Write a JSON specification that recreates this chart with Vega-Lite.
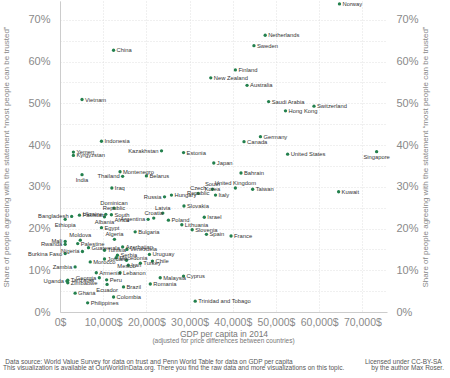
{
  "$schema": "https://vega.github.io/schema/vega-lite/v6.json",
  "width": 327,
  "height": 311,
  "padding": {"left": 2, "top": 0, "right": 4, "bottom": 0},
  "background": "white",
  "config": {
    "view": {"stroke": null},
    "font": "Liberation Sans",
    "text": {"font": "Liberation Sans"}
  },
  "title": {
    "text": "(adjusted for price differences between countries)",
    "orient": "bottom",
    "anchor": "middle",
    "frame": "group",
    "font": "Liberation Sans",
    "fontSize": 6.5,
    "fontWeight": "normal",
    "color": "#777777",
    "offset": 0,
    "subtitle": [
      "Data source: World Value Survey for data on trust and Penn World Table for data on GDP per capita\u00a0\u00a0\u00a0\u00a0\u00a0\u00a0\u00a0\u00a0\u00a0\u00a0\u00a0\u00a0\u00a0\u00a0\u00a0\u00a0\u00a0\u00a0\u00a0\u00a0\u00a0\u00a0\u00a0\u00a0\u00a0\u00a0\u00a0\u00a0\u00a0\u00a0\u00a0\u00a0\u00a0\u00a0\u00a0\u00a0\u00a0\u00a0\u00a0\u00a0Licensed under CC-BY-SA",
      "This visualization is available at OurWorldInData.org. There you find the raw data and more visualizations on this topic.\u00a0\u00a0\u00a0\u00a0\u00a0\u00a0\u00a0\u00a0\u00a0\u00a0\u00a0\u00a0\u00a0\u00a0\u00a0by the author Max Roser."
    ],
    "subtitleFont": "Liberation Sans",
    "subtitleFontSize": 6.5,
    "subtitleColor": "#555555",
    "subtitlePadding": 14,
    "subtitleLineHeight": 6.5
  },
  "data": {
    "values": [
      {"country": "Norway", "gdp": 64700, "trust": 73.8},
      {"country": "Netherlands", "gdp": 47500, "trust": 66.3},
      {"country": "Sweden", "gdp": 44900, "trust": 63.8},
      {"country": "China", "gdp": 12400, "trust": 62.7},
      {"country": "Finland", "gdp": 40600, "trust": 58.0},
      {"country": "New Zealand", "gdp": 34900, "trust": 56.1},
      {"country": "Australia", "gdp": 43300, "trust": 54.3},
      {"country": "Vietnam", "gdp": 5100, "trust": 50.9},
      {"country": "Saudi Arabia", "gdp": 48300, "trust": 50.4},
      {"country": "Switzerland", "gdp": 58800, "trust": 49.3},
      {"country": "Hong Kong", "gdp": 52200, "trust": 48.2},
      {"country": "Germany", "gdp": 46400, "trust": 42.0},
      {"country": "Indonesia", "gdp": 9600, "trust": 40.9},
      {"country": "Canada", "gdp": 42600, "trust": 40.8},
      {"country": "Kazakhstan", "gdp": 23500, "trust": 38.6},
      {"country": "Singapore", "gdp": 73300, "trust": 38.4},
      {"country": "Yemen", "gdp": 3100, "trust": 38.3},
      {"country": "Estonia", "gdp": 28600, "trust": 38.2},
      {"country": "United States", "gdp": 52700, "trust": 37.8},
      {"country": "Kyrgyzstan", "gdp": 3100, "trust": 37.5},
      {"country": "Japan", "gdp": 35600, "trust": 35.7},
      {"country": "Montenegro", "gdp": 13900, "trust": 33.6},
      {"country": "Bahrain", "gdp": 41900, "trust": 33.3},
      {"country": "India", "gdp": 5100, "trust": 32.9},
      {"country": "Thailand", "gdp": 14500, "trust": 32.5},
      {"country": "Belarus", "gdp": 20000, "trust": 32.6},
      {"country": "Iraq", "gdp": 12000, "trust": 29.7},
      {"country": "United Kingdom", "gdp": 40600, "trust": 29.7},
      {"country": "Kuwait", "gdp": 64500, "trust": 28.8},
      {"country": "Taiwan", "gdp": 44600, "trust": 29.4},
      {"country": "South Korea", "gdp": 35300, "trust": 29.4},
      {"country": "Czech Republic", "gdp": 32000, "trust": 28.4},
      {"country": "Italy", "gdp": 36000, "trust": 28.0},
      {"country": "Hungary", "gdp": 25800, "trust": 28.0},
      {"country": "Russia", "gdp": 24200, "trust": 27.6},
      {"country": "Slovakia", "gdp": 28700, "trust": 25.4},
      {"country": "Dominican Republic", "gdp": 12500, "trust": 24.9},
      {"country": "Latvia", "gdp": 23800, "trust": 23.7},
      {"country": "Ukraine", "gdp": 10600, "trust": 23.4},
      {"country": "South Africa", "gdp": 11900, "trust": 23.3},
      {"country": "Pakistan", "gdp": 4500, "trust": 23.2},
      {"country": "Bangladesh", "gdp": 2700, "trust": 22.9},
      {"country": "Albania", "gdp": 10300, "trust": 22.8},
      {"country": "Israel", "gdp": 33400, "trust": 22.7},
      {"country": "Croatia", "gdp": 21700, "trust": 22.5},
      {"country": "Ethiopia", "gdp": 1200, "trust": 22.2},
      {"country": "Argentina", "gdp": 20400, "trust": 22.2},
      {"country": "Poland", "gdp": 25100, "trust": 22.0},
      {"country": "Lithuania", "gdp": 28200, "trust": 20.9},
      {"country": "Egypt", "gdp": 9600, "trust": 20.2},
      {"country": "Slovenia", "gdp": 30600, "trust": 19.7},
      {"country": "Bulgaria", "gdp": 17400, "trust": 19.2},
      {"country": "Spain", "gdp": 33900, "trust": 18.6},
      {"country": "France", "gdp": 39600, "trust": 18.2},
      {"country": "Algeria", "gdp": 12600, "trust": 17.4},
      {"country": "Moldova", "gdp": 4700, "trust": 17.2},
      {"country": "Mali", "gdp": 1200, "trust": 16.9},
      {"country": "Palestine", "gdp": 4100, "trust": 16.4},
      {"country": "Rwanda", "gdp": 1200, "trust": 16.2},
      {"country": "Azerbaijan", "gdp": 14500, "trust": 15.6},
      {"country": "Guatemala", "gdp": 6600, "trust": 15.4},
      {"country": "Venezuela", "gdp": 15500, "trust": 15.0},
      {"country": "Tunisia", "gdp": 10300, "trust": 14.8},
      {"country": "Nigeria", "gdp": 5200, "trust": 14.5},
      {"country": "Burkina Faso", "gdp": 1200, "trust": 14.0},
      {"country": "Uruguay", "gdp": 20700, "trust": 13.8},
      {"country": "Serbia", "gdp": 13300, "trust": 13.6},
      {"country": "Macedonia", "gdp": 13000, "trust": 13.0},
      {"country": "Jordan", "gdp": 10300, "trust": 12.7},
      {"country": "Mexico", "gdp": 15400, "trust": 12.4},
      {"country": "Chile", "gdp": 21400, "trust": 12.2},
      {"country": "Morocco", "gdp": 7000, "trust": 12.0},
      {"country": "Turkey", "gdp": 18600, "trust": 11.7},
      {"country": "Iran", "gdp": 15800, "trust": 11.2},
      {"country": "Zambia", "gdp": 3500, "trust": 10.8},
      {"country": "Armenia", "gdp": 8400, "trust": 9.4},
      {"country": "Lebanon", "gdp": 13900, "trust": 9.4},
      {"country": "Cyprus", "gdp": 28600, "trust": 8.6},
      {"country": "Georgia", "gdp": 9100, "trust": 8.2},
      {"country": "Malaysia", "gdp": 23200, "trust": 8.2},
      {"country": "Peru", "gdp": 10800, "trust": 7.7},
      {"country": "Tanzania", "gdp": 1800, "trust": 7.6},
      {"country": "Uganda", "gdp": 1600, "trust": 7.4},
      {"country": "Zimbabwe", "gdp": 1800, "trust": 7.0},
      {"country": "Romania", "gdp": 20900, "trust": 6.7},
      {"country": "Ecuador", "gdp": 10900, "trust": 6.6},
      {"country": "Brazil", "gdp": 14700, "trust": 6.0},
      {"country": "Ghana", "gdp": 3500, "trust": 4.5},
      {"country": "Colombia", "gdp": 12400, "trust": 3.6},
      {"country": "Trinidad and Tobago", "gdp": 31300, "trust": 2.6},
      {"country": "Philippines", "gdp": 6400, "trust": 2.2}
    ]
  },
  "resolve": {"axis": {"y": "independent"}},
  "layer": [
    {
      "mark": {"type": "circle", "size": 11, "color": "#23804d", "opacity": 1},
      "encoding": {
        "x": {
          "field": "gdp", "type": "quantitative",
          "scale": {"domain": [0, 75700], "nice": false, "zero": true},
          "axis": {
            "values": [0, 5000, 10000, 15000, 20000, 25000, 30000, 35000, 40000, 45000, 50000, 55000, 60000, 65000, 70000, 75000],
            "labelExpr": "datum.value % 10000 == 0 ? format(datum.value, ',') + '$' : ''",
            "grid": true, "gridDash": [1, 2], "gridColor": "#d8d8d8", "gridWidth": 0.8,
            "domain": true, "domainColor": "#cccccc", "domainWidth": 1,
            "ticks": false, "labelFlush": false, "labelPadding": 5,
            "labelFont": "Liberation Sans", "labelFontSize": 10.5, "labelColor": "#8a8a8a",
            "title": "GDP per capita in 2014",
            "titleFont": "Liberation Sans", "titleFontSize": 8.5, "titleFontWeight": "normal",
            "titleColor": "#777777", "titlePadding": 2
          }
        },
        "y": {
          "field": "trust", "type": "quantitative",
          "scale": {"domain": [0, 74.5], "nice": false},
          "axis": {
            "orient": "left",
            "values": [0, 5, 10, 15, 20, 25, 30, 35, 40, 45, 50, 55, 60, 65, 70],
            "labelExpr": "datum.value % 10 == 0 ? datum.value + '%' : ''",
            "grid": true, "gridDash": [1, 2], "gridColor": "#d8d8d8", "gridWidth": 0.8,
            "domain": true, "domainColor": "#cccccc", "domainWidth": 1,
            "ticks": false, "labelPadding": 10,
            "labelFont": "Liberation Sans", "labelFontSize": 11, "labelColor": "#8a8a8a",
            "title": "Share of people agreeing with the statement “most people can be trusted”",
            "titleFont": "Liberation Sans", "titleFontSize": 8, "titleFontWeight": "normal",
            "titleColor": "#888888", "titlePadding": 17
          }
        }
      }
    },
    {
      "transform": [{"filter": {"not": {"field": "country", "oneOf": ["Thailand", "Kazakhstan", "Argentina", "Bangladesh", "Mali", "Rwanda", "Burkina Faso", "Uganda", "Russia", "Ukraine", "Nigeria", "Zambia", "Georgia", "United Kingdom", "Latvia", "Moldova", "Algeria", "Croatia", "South Korea", "Czech Republic", "Dominican Republic", "Ethiopia", "Albania", "Mexico", "India", "Ecuador", "Singapore", "South Africa"]}}}],
      "mark": {"type": "text", "align": "left", "baseline": "middle", "dx": 3, "fontSize": 5.8, "color": "#333333"},
      "encoding": {
        "x": {"field": "gdp", "type": "quantitative"},
        "y": {"field": "trust", "type": "quantitative", "axis": null},
        "text": {"field": "country"}
      }
    },
    {
      "transform": [{"filter": {"field": "country", "oneOf": ["Thailand", "Kazakhstan", "Argentina", "Bangladesh", "Mali", "Rwanda", "Burkina Faso", "Uganda", "Russia", "Ukraine", "Nigeria", "Zambia", "Georgia"]}}],
      "mark": {"type": "text", "align": "right", "baseline": "middle", "dx": -3, "fontSize": 5.8, "color": "#333333"},
      "encoding": {
        "x": {"field": "gdp", "type": "quantitative"},
        "y": {"field": "trust", "type": "quantitative", "axis": null},
        "text": {"field": "country"}
      }
    },
    {
      "transform": [{"filter": {"field": "country", "oneOf": ["United Kingdom", "Latvia", "Moldova", "Algeria", "Croatia"]}}],
      "mark": {"type": "text", "align": "center", "baseline": "bottom", "dy": -2.5, "fontSize": 5.8, "color": "#333333"},
      "encoding": {
        "x": {"field": "gdp", "type": "quantitative"},
        "y": {"field": "trust", "type": "quantitative", "axis": null},
        "text": {"field": "country"}
      }
    },
    {
      "transform": [{"filter": {"field": "country", "oneOf": ["South Korea", "Czech Republic", "Dominican Republic"]}}],
      "mark": {"type": "text", "align": "center", "baseline": "bottom", "dy": -2.5, "fontSize": 5.8, "lineBreak": " ", "lineHeight": 5.5, "color": "#333333"},
      "encoding": {
        "x": {"field": "gdp", "type": "quantitative"},
        "y": {"field": "trust", "type": "quantitative", "axis": null},
        "text": {"field": "country"}
      }
    },
    {
      "transform": [{"filter": {"field": "country", "oneOf": ["Ethiopia", "Albania", "Mexico", "India", "Ecuador", "Singapore"]}}],
      "mark": {"type": "text", "align": "center", "baseline": "top", "dy": 2.5, "fontSize": 5.8, "color": "#333333"},
      "encoding": {
        "x": {"field": "gdp", "type": "quantitative"},
        "y": {"field": "trust", "type": "quantitative", "axis": null},
        "text": {"field": "country"}
      }
    },
    {
      "transform": [{"filter": {"field": "country", "oneOf": ["South Africa"]}}],
      "mark": {"type": "text", "align": "left", "baseline": "middle", "dx": 3, "fontSize": 5.8, "lineBreak": " ", "lineHeight": 5.5, "color": "#333333"},
      "encoding": {
        "x": {"field": "gdp", "type": "quantitative"},
        "y": {"field": "trust", "type": "quantitative", "axis": null},
        "text": {"field": "country"}
      }
    },
    {
      "mark": {"type": "circle", "opacity": 0},
      "encoding": {
        "x": {"field": "gdp", "type": "quantitative"},
        "y": {
          "field": "trust", "type": "quantitative",
          "axis": {
            "orient": "right",
            "values": [0, 10, 20, 30, 40, 50, 60, 70],
            "labelExpr": "datum.value + '%'",
            "grid": false, "domain": false, "ticks": false, "labelPadding": 9,
            "labelFont": "Liberation Sans", "labelFontSize": 11, "labelColor": "#8a8a8a",
            "title": "Share of people agreeing with the statement “most people can be trusted”",
            "titleAngle": 270,
            "titleFont": "Liberation Sans", "titleFontSize": 8, "titleFontWeight": "normal",
            "titleColor": "#888888", "titlePadding": 11
          }
        }
      }
    }
  ]
}
